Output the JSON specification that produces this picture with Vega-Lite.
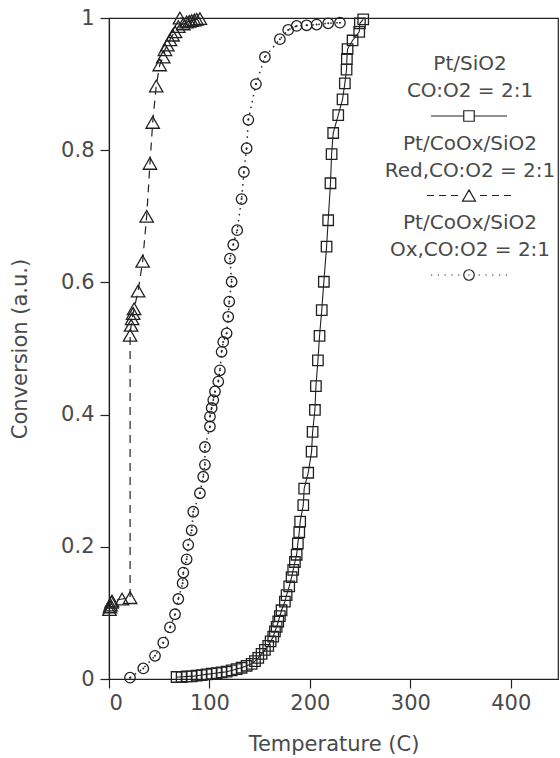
{
  "$schema": "https://vega.github.io/schema/vega-lite/v6.json",
  "width": 449,
  "height": 661,
  "autosize": {"type": "none"},
  "padding": {"left": 109, "top": 18, "right": 2, "bottom": 79},
  "background": "white",
  "config": {
    "view": {"stroke": "#222", "strokeWidth": 1.2},
    "font": "DejaVu Sans",
    "axis": {"domainColor": "#222", "domainWidth": 1.2, "tickColor": "#222", "tickWidth": 1.2, "tickSize": 9, "labelFont": "DejaVu Sans", "labelFontSize": 21, "labelColor": "#4a4a4a", "titleFont": "DejaVu Sans", "titleFontSize": 21, "titleFontWeight": "normal", "titleColor": "#4a4a4a", "grid": false},
    "style": {"guide-label": {"lineHeight": 27}}
  },
  "data": {"values": [
    {"s":"S","T":67.3,"C":0.003},{"s":"S","T":72.3,"C":0.003},{"s":"S","T":77.3,"C":0.004},{"s":"S","T":82.3,"C":0.004},{"s":"S","T":87.3,"C":0.005},{"s":"S","T":92.2,"C":0.006},{"s":"S","T":97.2,"C":0.007},{"s":"S","T":102.2,"C":0.008},{"s":"S","T":107.2,"C":0.009},{"s":"S","T":112.1,"C":0.010},{"s":"S","T":117.1,"C":0.011},{"s":"S","T":122.1,"C":0.013},{"s":"S","T":127.1,"C":0.015},{"s":"S","T":132.0,"C":0.017},{"s":"S","T":137.0,"C":0.020},{"s":"S","T":142.0,"C":0.023},{"s":"S","T":145.3,"C":0.027},{"s":"S","T":148.6,"C":0.032},{"s":"S","T":151.9,"C":0.038},{"s":"S","T":155.2,"C":0.044},{"s":"S","T":158.5,"C":0.050},{"s":"S","T":160.9,"C":0.057},{"s":"S","T":163.5,"C":0.064},{"s":"S","T":165.2,"C":0.072},{"s":"S","T":166.9,"C":0.079},{"s":"S","T":168.5,"C":0.087},{"s":"S","T":170.1,"C":0.095},{"s":"S","T":171.8,"C":0.104},{"s":"S","T":175.1,"C":0.117},{"s":"S","T":176.8,"C":0.127},{"s":"S","T":179.4,"C":0.140},{"s":"S","T":181.8,"C":0.154},{"s":"S","T":183.4,"C":0.165},{"s":"S","T":185.1,"C":0.177},{"s":"S","T":186.8,"C":0.188},{"s":"S","T":188.0,"C":0.205},{"s":"S","T":189.4,"C":0.222},{"s":"S","T":190.3,"C":0.238},{"s":"S","T":193.4,"C":0.263},{"s":"S","T":194.3,"C":0.288},{"s":"S","T":198.3,"C":0.312},{"s":"S","T":201.7,"C":0.344},{"s":"S","T":202.7,"C":0.374},{"s":"S","T":205.0,"C":0.407},{"s":"S","T":206.0,"C":0.443},{"s":"S","T":208.0,"C":0.482},{"s":"S","T":209.6,"C":0.519},{"s":"S","T":211.8,"C":0.558},{"s":"S","T":213.9,"C":0.601},{"s":"S","T":216.6,"C":0.654},{"s":"S","T":218.2,"C":0.694},{"s":"S","T":220.5,"C":0.750},{"s":"S","T":221.6,"C":0.794},{"s":"S","T":223.2,"C":0.826},{"s":"S","T":228.2,"C":0.853},{"s":"S","T":232.5,"C":0.877},{"s":"S","T":234.8,"C":0.901},{"s":"S","T":236.5,"C":0.922},{"s":"S","T":236.8,"C":0.938},{"s":"S","T":237.5,"C":0.953},{"s":"S","T":242.5,"C":0.966},{"s":"S","T":249.1,"C":0.979},{"s":"S","T":249.8,"C":0.992},{"s":"S","T":253.1,"C":0.998},
    {"s":"R","T":0.5,"C":0.105},{"s":"R","T":1.0,"C":0.109},{"s":"R","T":1.5,"C":0.112},{"s":"R","T":2.5,"C":0.116},{"s":"R","T":3.0,"C":0.118},{"s":"R","T":13.0,"C":0.121},{"s":"R","T":21.0,"C":0.123},{"s":"R","T":21.0,"C":0.52},{"s":"R","T":22.0,"C":0.535},{"s":"R","T":23.0,"C":0.545},{"s":"R","T":24.0,"C":0.553},{"s":"R","T":25.0,"C":0.56},{"s":"R","T":29.0,"C":0.587},{"s":"R","T":33.5,"C":0.632},{"s":"R","T":37.5,"C":0.70},{"s":"R","T":40.8,"C":0.78},{"s":"R","T":43.5,"C":0.842},{"s":"R","T":47.0,"C":0.897},{"s":"R","T":50.5,"C":0.929},{"s":"R","T":54.0,"C":0.941},{"s":"R","T":55.7,"C":0.952},{"s":"R","T":58.0,"C":0.959},{"s":"R","T":60.7,"C":0.967},{"s":"R","T":63.3,"C":0.974},{"s":"R","T":65.7,"C":0.979},{"s":"R","T":69.0,"C":0.987},{"s":"R","T":74.0,"C":0.991},{"s":"R","T":77.3,"C":0.994},{"s":"R","T":80.0,"C":0.995},{"s":"R","T":82.3,"C":0.996},{"s":"R","T":85.0,"C":0.997},{"s":"R","T":87.3,"C":0.998},{"s":"R","T":90.5,"C":0.999},{"s":"R","T":70.6,"C":1.0},
    {"s":"O","T":20.9,"C":0.002},{"s":"O","T":34.1,"C":0.016},{"s":"O","T":45.8,"C":0.035},{"s":"O","T":54.0,"C":0.055},{"s":"O","T":60.7,"C":0.078},{"s":"O","T":65.7,"C":0.098},{"s":"O","T":69.0,"C":0.121},{"s":"O","T":73.3,"C":0.145},{"s":"O","T":74.0,"C":0.161},{"s":"O","T":77.3,"C":0.181},{"s":"O","T":78.9,"C":0.203},{"s":"O","T":82.3,"C":0.225},{"s":"O","T":83.9,"C":0.253},{"s":"O","T":90.5,"C":0.281},{"s":"O","T":93.8,"C":0.306},{"s":"O","T":95.5,"C":0.324},{"s":"O","T":95.5,"C":0.351},{"s":"O","T":100.5,"C":0.382},{"s":"O","T":100.5,"C":0.397},{"s":"O","T":102.2,"C":0.410},{"s":"O","T":103.8,"C":0.422},{"s":"O","T":105.5,"C":0.435},{"s":"O","T":108.8,"C":0.450},{"s":"O","T":110.4,"C":0.467},{"s":"O","T":112.1,"C":0.495},{"s":"O","T":113.7,"C":0.510},{"s":"O","T":117.1,"C":0.523},{"s":"O","T":118.7,"C":0.548},{"s":"O","T":119.7,"C":0.571},{"s":"O","T":122.1,"C":0.601},{"s":"O","T":120.4,"C":0.636},{"s":"O","T":123.7,"C":0.657},{"s":"O","T":127.6,"C":0.679},{"s":"O","T":132.0,"C":0.726},{"s":"O","T":134.3,"C":0.767},{"s":"O","T":137.0,"C":0.803},{"s":"O","T":138.7,"C":0.846},{"s":"O","T":146.3,"C":0.900},{"s":"O","T":155.2,"C":0.941},{"s":"O","T":170.1,"C":0.968},{"s":"O","T":178.4,"C":0.982},{"s":"O","T":186.8,"C":0.988},{"s":"O","T":196.7,"C":0.989},{"s":"O","T":206.7,"C":0.990},{"s":"O","T":218.2,"C":0.992},{"s":"O","T":229.9,"C":0.993}
  ]},
  "encoding": {
    "x": {"field": "T", "type": "quantitative", "scale": {"domain": [0, 447], "nice": false, "zero": false},
      "axis": {"values": [0, 100, 200, 300, 400], "title": "Temperature (C)", "labelPadding": 4, "titlePadding": 20}},
    "y": {"field": "C", "type": "quantitative", "scale": {"domain": [0, 1], "nice": false},
      "axis": {"values": [0, 0.2, 0.4, 0.6, 0.8, 1], "format": "~g", "title": "Conversion (a.u.)", "labelPadding": 6, "titlePadding": 30}}
  },
  "layer": [
    {"transform": [{"filter": "datum.s == 'S'"}], "mark": {"type": "line", "color": "#222", "strokeWidth": 1.1}, "encoding": {"order": {"field": "C", "type": "quantitative"}}},
    {"transform": [{"filter": "datum.s == 'R'"}], "mark": {"type": "line", "color": "#222", "strokeWidth": 1.2, "strokeDash": [8, 6]}, "encoding": {"order": {"field": "C", "type": "quantitative"}}},
    {"transform": [{"filter": "datum.s == 'O'"}], "mark": {"type": "line", "color": "#222", "strokeWidth": 1.5, "strokeDash": [1.5, 4.5]}, "encoding": {"order": {"field": "C", "type": "quantitative"}}},
    {"transform": [{"filter": "datum.s == 'S'"}], "mark": {"type": "point", "shape": "square", "size": 110, "filled": false, "color": "#222", "strokeWidth": 1.3, "opacity": 1}, "encoding": {}},
    {"transform": [{"filter": "datum.s == 'R'"}], "mark": {"type": "point", "shape": "triangle-up", "size": 180, "filled": false, "color": "#222", "strokeWidth": 1.3, "opacity": 1}, "encoding": {}},
    {"transform": [{"filter": "datum.s == 'O'"}], "mark": {"type": "point", "shape": "circle", "size": 110, "filled": false, "color": "#222", "strokeWidth": 1.3, "opacity": 1}, "encoding": {}},
    {"transform": [{"filter": "datum.s == 'O'"}], "mark": {"type": "point", "shape": "circle", "size": 4, "filled": true, "color": "#222", "opacity": 1}, "encoding": {}},
    {"transform": [{"filter": "datum.C > 5"}],
     "mark": {"type": "point", "filled": false, "color": "#222", "strokeWidth": 1.2, "opacity": 1},
     "encoding": {
       "shape": {"field": "s", "type": "nominal",
         "scale": {"domain": ["S", "R", "O"], "range": [
           "M-2.533,3.4667H-0.35M0.35,3.4667H2.533M-0.35,3.1167H0.35V3.8167H-0.35Z",
           "M-2.8,3.4667H-2.333M-2,3.4667H-1.533M-1.2,3.4667H-0.733M0.733,3.4667H1.2M1.533,3.4667H2M2.333,3.4667H2.8M0,3.093L0.433,3.84H-0.433Z",
           "M-2.533,3.4667h0.08M-2.08,3.4667h0.08M-1.627,3.4667h0.08M-1.173,3.4667h0.08M-0.72,3.4667h0.08M0.64,3.4667h0.08M1.093,3.4667h0.08M1.547,3.4667h0.08M2,3.4667h0.08M2.453,3.4667h0.08M-0.04,3.4667H0.04M0.35,3.4667A0.35,0.35,0,1,1,-0.35,3.4667A0.35,0.35,0,1,1,0.35,3.4667Z"
         ]},
         "legend": {"orient": "none", "legendX": 344, "legendY": 30, "title": null, "padding": 0, "rowPadding": 3.5,
           "symbolSize": 900, "symbolStrokeColor": "#222", "symbolStrokeWidth": 1.2, "symbolFillColor": "transparent", "symbolOpacity": 1,
           "labelExpr": "datum.label == 'S' ? ['Pt/SiO2', 'CO:O2 = 2:1'] : datum.label == 'R' ? ['Pt/CoOx/SiO2', 'Red,CO:O2 = 2:1'] : ['Pt/CoOx/SiO2', 'Ox,CO:O2 = 2:1']",
           "labelAlign": "center", "labelBaseline": "middle", "labelOffset": -15, "labelFont": "DejaVu Sans", "labelFontSize": 20, "labelColor": "#4a4a4a", "labelLimit": 0}}
     }}
  ]
}
